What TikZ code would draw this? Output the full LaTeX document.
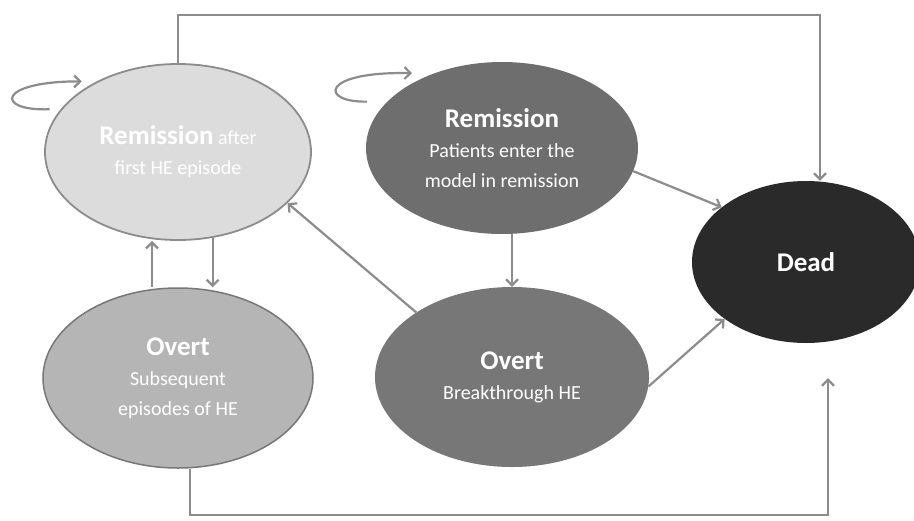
\documentclass[tikz,border=0pt]{standalone}
\usepackage{fontspec}
\setmainfont{Carlito}
\usetikzlibrary{arrows.meta,positioning,calc,shapes.geometric}

\definecolor{lineg}{HTML}{8C8C8C}
\definecolor{remone}{HTML}{DCDCDC}
\definecolor{remtwo}{HTML}{6E6E6E}
\definecolor{ovone}{HTML}{B5B5B5}
\definecolor{ovtwo}{HTML}{777777}
\definecolor{deadc}{HTML}{2A2A2A}

\begin{document}
\begin{tikzpicture}[x=1pt,y=-1pt,
    state/.style={ellipse,inner sep=0pt,text=white,align=center,
        font=\fontsize{20}{30}\selectfont},
    arr/.style={draw=lineg,line width=2.2pt,-{Straight Barb[length=6pt,width=12pt]}}]
    \useasboundingbox (0,0) rectangle (914,520);
    \clip (0,0) rectangle (914,520);

    % states
    \node[state,fill=remone,draw=lineg,line width=1.8pt,minimum width=266pt,minimum height=176pt]
        (remA) at (178,152) {{\fontsize{27}{30}\selectfont\bfseries Remission} after\\first HE episode};
    \node[state,fill=remtwo,minimum width=272pt,minimum height=172pt]
        (remB) at (502,148) {{\fontsize{27}{30}\selectfont\bfseries Remission}\\Patients enter the\\model in remission};
    \node[state,fill=ovone,draw=ovtwo,line width=1.5pt,minimum width=270pt,minimum height=180pt]
        (ovC) at (178,378) {{\fontsize{27}{30}\selectfont\bfseries Overt}\\Subsequent\\episodes of HE};
    \node[state,fill=ovtwo,minimum width=274pt,minimum height=180pt]
        (ovD) at (512,377) {{\fontsize{27}{30}\selectfont\bfseries Overt}\\Breakthrough HE};
    \node[state,fill=deadc,minimum width=228pt,minimum height=162pt]
        (dead) at (806,262) {{\fontsize{27}{30}\selectfont\bfseries Dead}};

    \coordinate (topline) at (0,15);
    \coordinate (botline) at (0,515);

    % self loops
    \draw[arr] ([xshift=-11pt]remA.160) .. controls +(-55,2) and +(-85,0) .. ([shift={(-6pt,5pt)}]remA.144);
    \draw[arr] ([xshift=-20pt]remB.158) .. controls +(-48,1) and +(-92,-2) .. ([shift={(-8pt,6pt)}]remB.140);

    % transitions
    \draw[arr] ([xshift=-26pt]ovC.north) -- ([xshift=-26pt]ovC.north |- remA.south);
    \draw[arr] (remA.-68) -- (remA.-68 |- ovC.north);
    \draw[arr] (remB.south -| ovD.north) -- (ovD.north);
    \draw[arr] (ovD.146) -- (remA.-25);
    \draw[arr] (remB.-10) -- (dead.147);
    \draw[arr] (ovD.-4) -- (dead.215);
    \draw[arr] (remA.north) -- (remA.north |- topline) -| ([xshift=14pt]dead.north);
    \draw[arr] ([xshift=12pt]ovC.south) -- ([xshift=12pt]ovC.south |- botline)
        -| ([shift={(22pt,-35pt)}]dead.south);
\end{tikzpicture}
\end{document}
